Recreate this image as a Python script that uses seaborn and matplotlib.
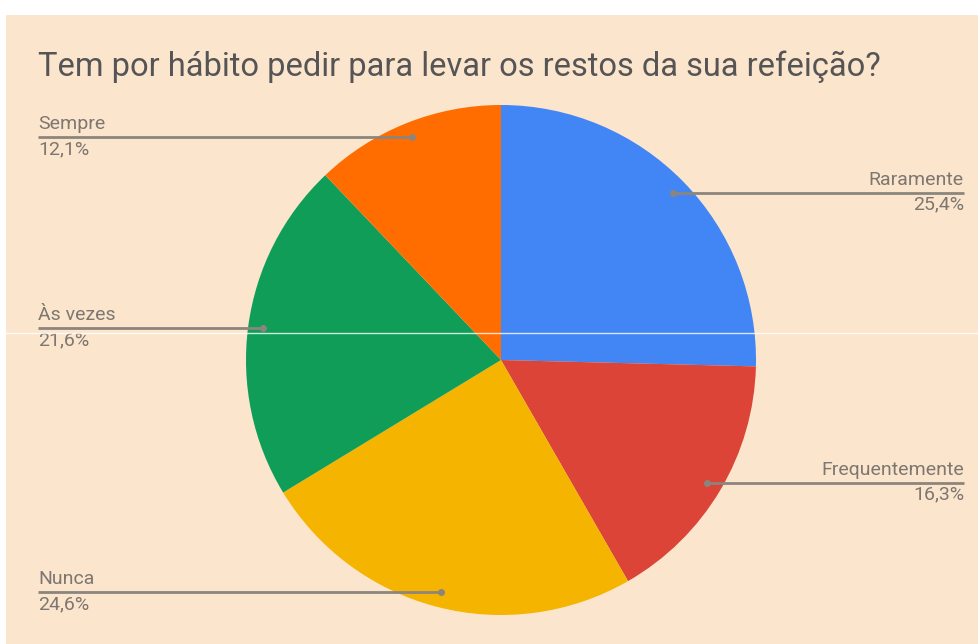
import numpy as np
import matplotlib
matplotlib.use("Agg")
import matplotlib.pyplot as plt
import seaborn as sns
from matplotlib.patches import Rectangle

# data (clockwise from 12 o'clock)
categorias = ["Raramente", "Frequentemente", "Nunca", "Às vezes", "Sempre"]
valores = [25.4, 16.3, 24.6, 21.6, 12.1]
cores = ["#4285F4", "#DB4437", "#F4B400", "#0F9D58", "#FF6D01"]
lado = ["right", "right", "left", "left", "left"]
titulo = "Tem por hábito pedir para levar os restos da sua refeição?"

sns.set_style("white")
plt.rcParams["font.family"] = ["Roboto", "DejaVu Sans"]
pal = sns.color_palette(cores)

W, H = 979, 644
fig = plt.figure(figsize=(W / 100, H / 100), dpi=100, facecolor="white")
ax = fig.add_axes([0, 0, 1, 1])

bg = "#FCE5CD"
ax.add_patch(Rectangle((6, 0), W - 6, H - 15, facecolor=bg, edgecolor="none", zorder=0))

cx, cy, R = 501, H - 360, 255
wedges, _ = ax.pie(valores, colors=pal, startangle=90, counterclock=False,
                   radius=R, center=(cx, cy), frame=True,
                   wedgeprops=dict(linewidth=0))
ax.set_xlim(0, W)
ax.set_ylim(0, H)
ax.set_aspect("equal")
ax.axis("off")

ax.text(38, H - 67, titulo, fontsize=23.5, color="#555555", va="center", ha="left")

linha = "#8c857d"
texto = "#7d7770"
for w, nome, v, s in zip(wedges, categorias, valores, lado):
    ang = np.deg2rad((w.theta1 + w.theta2) / 2)
    px = cx + 0.94 * R * np.cos(ang)
    py = cy + 0.94 * R * np.sin(ang)
    pct = f"{v:.1f}".replace(".", ",") + "%"
    if s == "right":
        x0, x1, ha, tx = px, 964, "right", 964
    else:
        x0, x1, ha, tx = 38, px, "left", 38
    ax.plot([x0, x1], [py, py], color=linha, lw=2, solid_capstyle="butt", zorder=3)
    ax.plot([px], [py], "o", color=linha, ms=4, zorder=4)
    ax.text(tx, py + 4, nome, fontsize=14, color=texto, ha=ha, va="bottom")
    ax.text(tx, py - 3, pct, fontsize=14, color=texto, ha=ha, va="top")

# faint horizontal seam present in the source image
ax.plot([0, W], [H - 333, H - 333], color="white", lw=1, alpha=0.8, zorder=5)

fig.savefig("out.png", dpi=100, facecolor="white")
